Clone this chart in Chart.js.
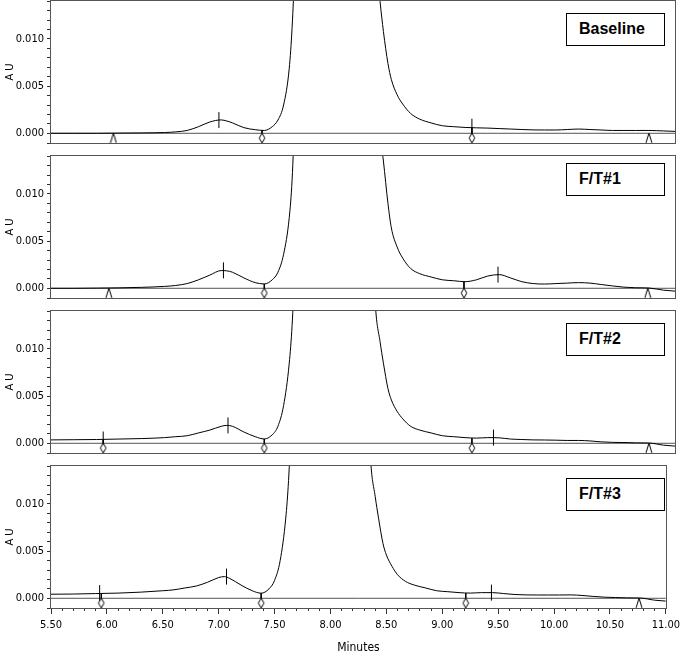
<!DOCTYPE html>
<html>
<head>
<meta charset="utf-8">
<script src="https://cdn.jsdelivr.net/npm/chart.js@4.4.0/dist/chart.umd.min.js"></script>
<style>
  html, body { margin: 0; padding: 0; background: #fff; overflow: hidden; }
  #wrap { position: relative; width: 685px; height: 659px; }
  #wrap canvas { position: absolute; left: 0; }
  .tag {
    position: absolute; left: 566px; width: 99px; height: 33px; box-sizing: border-box;
    border: 1.5px solid #000; background: #fff; padding-left: 12px;
    font: bold 16px "Liberation Sans", Arial, sans-serif; line-height: 30px; color: #000;
  }
</style>
</head>
<body>
<div id="wrap"></div>
<script>
// retention time grid (minutes)
const times = [
  5.50, 5.70, 5.90, 6.10, 6.30, 6.50, 6.60, 6.70, 6.80, 6.90,
  7.00, 7.05, 7.10, 7.20, 7.30, 7.38, 7.45, 7.50, 7.55, 7.60,
  7.625, 7.65, 7.70, 7.80, 8.00, 8.20, 8.30, 8.36, 8.40, 8.43,
  8.47, 8.50, 8.55, 8.60, 8.67, 8.75, 8.85, 8.95, 9.05, 9.15,
  9.25, 9.35, 9.45, 9.55, 9.65, 9.75, 9.85, 9.95, 10.05, 10.15,
  10.25, 10.35, 10.45, 10.55, 10.65, 10.77, 10.90, 11.00
];

// absorbance (AU) per sample
const baselineAU = [
  0.0000, 0.0000, 0.0000, 0.00002, 0.00004, 0.00008, 0.00015, 0.0003, 0.0007, 0.0012,
  0.00142, 0.0013, 0.0011, 0.0006, 0.00038, 0.0003, 0.0007, 0.0014, 0.0030, 0.0069,
  0.0112, 0.018, 0.035, 0.070, 0.100, 0.070, 0.035, 0.019, 0.0140, 0.0108,
  0.0074, 0.0057, 0.0041, 0.0031, 0.0021, 0.0015, 0.0011, 0.0008, 0.0007, 0.00062,
  0.00058, 0.00055, 0.0005, 0.00045, 0.0004, 0.00036, 0.00035, 0.00035, 0.0004, 0.00045,
  0.0004, 0.00035, 0.0003, 0.0003, 0.0003, 0.0003, 0.00025, 0.0002
];
const ft1AU = [
  0.0000, 0.0000, 0.00002, 0.00005, 0.0001, 0.0002, 0.0003, 0.0005, 0.0009, 0.0014,
  0.00188, 0.00185, 0.0017, 0.0011, 0.0006, 0.00046, 0.0009, 0.0017, 0.0036, 0.0075,
  0.0115, 0.019, 0.036, 0.070, 0.100, 0.075, 0.040, 0.025, 0.0165, 0.0135,
  0.0090, 0.0064, 0.0044, 0.0032, 0.0021, 0.00155, 0.0012, 0.0009, 0.0008, 0.0007,
  0.0009, 0.0013, 0.00145, 0.0011, 0.0007, 0.0005, 0.00045, 0.0005, 0.00055, 0.0006,
  0.00055, 0.0004, 0.00025, 0.00012, 0.00006, 0.00003, -0.0002, -0.0003
];
const ft2AU = [
  0.00036, 0.00038, 0.0004, 0.00045, 0.0005, 0.0006, 0.0007, 0.0008, 0.0011, 0.0014,
  0.0018, 0.0019, 0.0018, 0.0012, 0.0007, 0.00046, 0.0009, 0.0018, 0.0040, 0.0085,
  0.0125, 0.019, 0.036, 0.070, 0.100, 0.065, 0.030, 0.0145, 0.0108, 0.0085,
  0.0058, 0.0046, 0.0034, 0.0026, 0.0018, 0.0014, 0.0011, 0.0008, 0.0007, 0.0006,
  0.00055, 0.0006, 0.00058, 0.00045, 0.0004, 0.00036, 0.00035, 0.00033, 0.0003, 0.0003,
  0.00025, 0.00015, 0.0001, 0.00008, 0.00005, 0.00003, -0.0002, -0.0003
];
const ft3AU = [
  0.00043, 0.00045, 0.0005, 0.00055, 0.00065, 0.0008, 0.0009, 0.0011, 0.0013, 0.0017,
  0.0022, 0.0023, 0.0021, 0.0014, 0.0008, 0.00054, 0.001, 0.0019, 0.0040, 0.0085,
  0.0125, 0.019, 0.036, 0.070, 0.100, 0.065, 0.030, 0.0145, 0.0108, 0.0085,
  0.0058, 0.0046, 0.0034, 0.0025, 0.0018, 0.0014, 0.0011, 0.0008, 0.0007, 0.0006,
  0.00055, 0.0006, 0.0006, 0.0005, 0.0004, 0.00036, 0.00035, 0.00035, 0.00035, 0.00036,
  0.0003, 0.0002, 0.00012, 0.00008, 0.00005, 0.00003, -0.0002, -0.0003
];

const panelNames = ['Baseline', 'F/T#1', 'F/T#2', 'F/T#3'];
const panelSeries = [baselineAU, ft1AU, ft2AU, ft3AU];

// integration marks
const triangleTimes = [[6.05, 10.77], [6.01, 10.76], [10.77], [10.76]];
const diamondTimes = [[7.36, 9.21], [7.38, 9.14], [5.96, 7.38, 9.21], [5.95, 7.38, 9.21]];
const diamondHeights = [[0.0003, 0.0006], [0.00046, 0.0007], [0.0004, 0.00046, 0.00054], [0.00045, 0.00054, 0.00054]];
const apexTimes = [[6.98, 9.21], [7.02, 9.44], [5.96, 7.06, 9.40], [5.935, 7.07, 9.44]];
const apexHeights = [[0.0014, 0.0007], [0.0019, 0.00145], [0.0004, 0.0019, 0.0006], [0.00055, 0.0023, 0.0006]];

const yMin = -0.00103, yMax = 0.01403;
const xMin = 5.5, xMax = 11.0;

const narrow = '"Liberation Sans Narrow", "DejaVu Sans Condensed", "Arial Narrow", sans-serif';
const MARK_Y = -0.0005;

function isMultiple(v, step) {
  const r = v / step;
  return Math.abs(r - Math.round(r)) < 1e-6;
}

function markerImage(kind) {
  const c = document.createElement('canvas');
  c.width = 8; c.height = 11;
  const g = c.getContext('2d');
  g.strokeStyle = '#000'; g.fillStyle = '#fff'; g.lineWidth = 1;
  g.beginPath();
  if (kind === 'triangle') {
    g.moveTo(1, 10.5); g.lineTo(4, 0.5); g.lineTo(7, 10.5);
  } else {
    g.moveTo(4, 0.5); g.lineTo(6.8, 5.5); g.lineTo(4, 10.5); g.lineTo(1.2, 5.5); g.closePath();
  }
  g.fill(); g.stroke();
  return c;
}
const triangleImg = markerImage('triangle');
const diamondImg = markerImage('diamond');

const framePlugin = {
  id: 'frame',
  afterDraw(chart) {
    const { ctx, chartArea: a } = chart;
    ctx.save();
    ctx.strokeStyle = '#555';
    ctx.lineWidth = 1;
    ctx.strokeRect(Math.round(a.left) - 0.5, Math.round(a.top) - 0.5,
      Math.round(a.right - a.left) + 1, Math.round(a.bottom - a.top) + 1);
    ctx.restore();
  }
};

function buildPanel(i) {
  const wrap = document.getElementById('wrap');
  const isLast = i === 3;
  const top = isLast ? 465 : i * 155;
  const height = isLast ? 194 : 144;

  const canvas = document.createElement('canvas');
  canvas.width = 685; canvas.height = height;
  canvas.style.top = top + 'px';
  wrap.appendChild(canvas);

  const tag = document.createElement('div');
  tag.className = 'tag';
  tag.textContent = panelNames[i];
  tag.style.top = (top + [13, 8, 13, 13][i]) + 'px';

  const series = panelSeries[i];
  const datasets = [
    {
      data: diamondTimes[i].map(t => ({ x: t, y: MARK_Y })),
      showLine: false, pointStyle: diamondImg, pointRadius: 5
    },
    {
      data: triangleTimes[i].map(t => ({ x: t, y: MARK_Y })),
      showLine: false, pointStyle: triangleImg, pointRadius: 5
    },
    {
      data: apexTimes[i].map((t, k) => ({ x: t, y: apexHeights[i][k] })),
      showLine: false, pointStyle: 'line', rotation: 90, pointRadius: 8,
      pointBorderColor: '#000', pointBorderWidth: 1
    }
  ];
  diamondTimes[i].forEach((t, k) => {
    datasets.push({
      data: [{ x: t, y: diamondHeights[i][k] }, { x: t, y: 0 }],
      borderColor: '#000', borderWidth: 1, pointRadius: 0
    });
  });
  datasets.push({
    data: times.map((t, k) => ({ x: t, y: series[k] })),
    borderColor: '#000', borderWidth: 1, pointRadius: 0,
    cubicInterpolationMode: 'monotone'
  });
  datasets.push({
    data: [{ x: xMin, y: 0 }, { x: xMax, y: 0 }],
    borderColor: '#555', borderWidth: 1, pointRadius: 0
  });

  const xScale = {
    type: 'linear', min: xMin, max: xMax, display: isLast,
    ticks: {
      stepSize: 0.1, autoSkip: false, maxRotation: 0, padding: 5, color: '#000',
      font: { family: narrow, size: 11 },
      callback: v => isMultiple(v, 0.5) ? v.toFixed(2) : ''
    },
    grid: {
      drawOnChartArea: false, tickLength: 6, tickColor: '#333',
      tickBorderDash: c => (c.tick && isMultiple(c.tick.value, 0.5)) ? [] : [3, 20]
    },
    border: { display: false },
    title: {
      display: true, text: 'Minutes', color: '#000',
      font: { family: narrow, size: 12 }, padding: { top: 0, bottom: 4 }
    }
  };
  if (isLast) {
    xScale.afterFit = s => { s.height = 51; };
  }

  new Chart(canvas, {
    type: 'line',
    data: { datasets },
    options: {
      responsive: false,
      animation: false,
      devicePixelRatio: 1,
      layout: { autoPadding: false, padding: { top: 1, bottom: isLast ? 0 : 1, left: 0, right: 10 } },
      plugins: { legend: { display: false }, tooltip: { enabled: false } },
      scales: {
        x: xScale,
        y: {
          min: yMin, max: yMax,
          afterFit(s) { s.width = 51; s.paddingTop = 0; s.paddingBottom = 0; },
          ticks: {
            stepSize: 0.001, autoSkip: false, padding: 3, color: '#000',
            font: { family: narrow, size: 11 },
            callback: v => isMultiple(v, 0.005) ? v.toFixed(3) : ''
          },
          grid: { drawOnChartArea: false, tickLength: 4, tickColor: '#333' },
          border: { display: false },
          title: {
            display: true, text: 'A U', color: '#000',
            font: { family: narrow, size: 11 }, padding: { top: 4, bottom: 0 }
          }
        }
      }
    },
    plugins: [framePlugin]
  });

  wrap.appendChild(tag);
}

for (let i = 0; i < 4; i++) buildPanel(i);
</script>
</body>
</html>
